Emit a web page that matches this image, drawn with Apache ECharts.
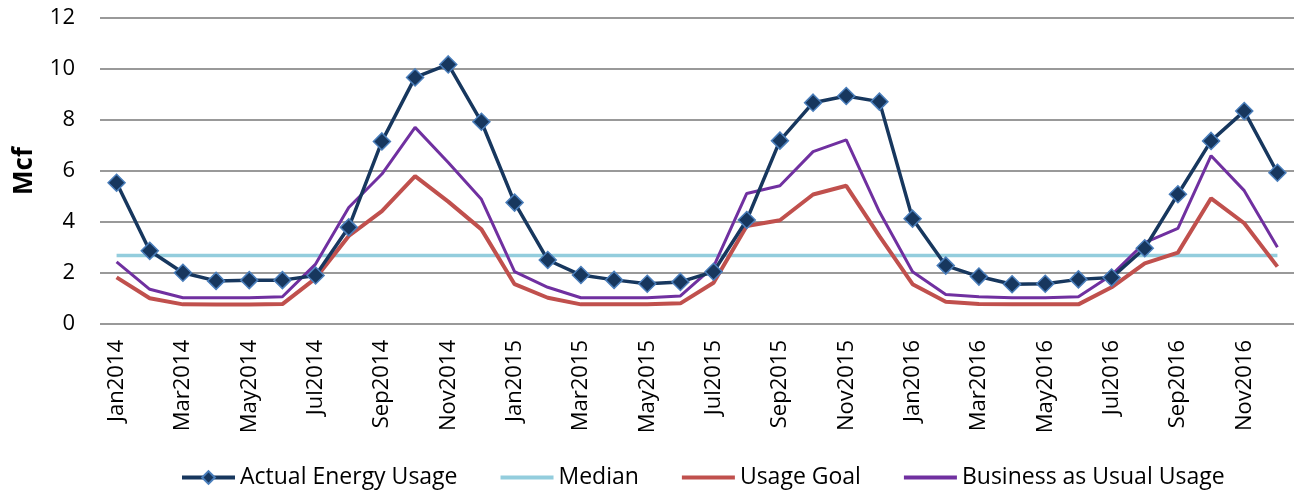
<!DOCTYPE html>
<html>
<head>
<meta charset="utf-8">
<script src="https://cdn.jsdelivr.net/npm/echarts@6/dist/echarts.min.js"></script>
<style>
  html, body { margin: 0; padding: 0; background: #fff; }
  #chart { width: 1294px; height: 491px; }
</style>
</head>
<body>
<div id="chart"></div>
<script>
// 月份（x轴）
const months = [
  'Jan2014', 'Feb2014', 'Mar2014', 'Apr2014', 'May2014', 'Jun2014',
  'Jul2014', 'Aug2014', 'Sep2014', 'Oct2014', 'Nov2014', 'Dec2014',
  'Jan2015', 'Feb2015', 'Mar2015', 'Apr2015', 'May2015', 'Jun2015',
  'Jul2015', 'Aug2015', 'Sep2015', 'Oct2015', 'Nov2015', 'Dec2015',
  'Jan2016', 'Feb2016', 'Mar2016', 'Apr2016', 'May2016', 'Jun2016',
  'Jul2016', 'Aug2016', 'Sep2016', 'Oct2016', 'Nov2016', 'Dec2016'
]

// 实际用量
const actualUsage = [
  5.54, 2.87, 2.01, 1.69, 1.72, 1.72, 1.90, 3.79, 7.16, 9.67, 10.18, 7.93,
  4.76, 2.51, 1.92, 1.73, 1.58, 1.65, 2.05, 4.08, 7.19, 8.68, 8.94, 8.72,
  4.13, 2.29, 1.86, 1.56, 1.58, 1.75, 1.82, 2.97, 5.09, 7.18, 8.35, 5.93
]

// 中位数
const medianUsage = [
  2.69, 2.69, 2.69, 2.69, 2.69, 2.69, 2.69, 2.69, 2.69, 2.69, 2.69, 2.69,
  2.69, 2.69, 2.69, 2.69, 2.69, 2.69, 2.69, 2.69, 2.69, 2.69, 2.69, 2.69,
  2.69, 2.69, 2.69, 2.69, 2.69, 2.69, 2.69, 2.69, 2.69, 2.69, 2.69, 2.69
]

// 目标用量
const goalUsage = [
  1.83, 1.01, 0.77, 0.76, 0.76, 0.78, 1.79, 3.45, 4.43, 5.80, 4.80, 3.71,
  1.56, 1.03, 0.77, 0.77, 0.77, 0.81, 1.62, 3.84, 4.07, 5.08, 5.42, 3.45,
  1.56, 0.87, 0.78, 0.77, 0.77, 0.77, 1.44, 2.38, 2.80, 4.93, 3.95, 2.25
]

// 照常营业用量
const bauUsage = [
  2.44, 1.36, 1.03, 1.03, 1.03, 1.07, 2.35, 4.57, 5.88, 7.71, 6.33, 4.89,
  2.05, 1.44, 1.03, 1.03, 1.03, 1.10, 2.25, 5.12, 5.42, 6.76, 7.22, 4.40,
  2.05, 1.16, 1.07, 1.03, 1.03, 1.07, 1.92, 3.19, 3.75, 6.60, 5.23, 3.01
]

const yTicks = { min: 0, max: 12, interval: 2 }

const font = '"Open Sans", "Noto Sans", sans-serif'

// 图例中的纯线条图标
const lineIcon = 'path://M0,0H60V4.5H0Z'

const mChart = echarts.init(document.getElementById('chart'))

const options = {
  animation: false,
  textStyle: { fontFamily: font },
  // 图例
  legend: {
    left: 175,
    top: 461,
    itemWidth: 53,
    itemHeight: 16,
    itemGap: 43,
    textStyle: { fontSize: 23, color: '#000', fontFamily: font },
    data: [
      { name: 'Actual Energy Usage', lineStyle: { width: 4 } },
      { name: 'Median', icon: lineIcon },
      { name: 'Usage Goal', icon: lineIcon },
      { name: 'Business as Usual Usage', icon: lineIcon }
    ]
  },
  grid: {
    left: 100,
    right: -5,
    top: 18,
    bottom: 167
  },
  xAxis: {
    type: 'category',
    data: months,
    axisLine: { show: false },
    axisTick: { show: false },
    axisLabel: {
      interval: 1,
      rotate: 90,
      margin: 16,
      fontSize: 22,
      color: '#000',
      fontFamily: font
    }
  },
  yAxis: {
    type: 'value',
    min: yTicks.min,
    max: yTicks.max,
    interval: yTicks.interval,
    name: 'Mcf',
    nameLocation: 'middle',
    nameGap: 62,
    nameTextStyle: { fontSize: 26, fontWeight: 'bold', color: '#000', fontFamily: font },
    axisLine: { show: false },
    axisTick: { show: false },
    axisLabel: { fontSize: 22, color: '#000', margin: 25, fontFamily: font },
    splitLine: { lineStyle: { color: '#999', width: 2 } }
  },
  series: [
    {
      name: 'Actual Energy Usage',
      type: 'line',
      z: 5,
      data: actualUsage,
      symbol: 'diamond',
      symbolSize: 17,
      color: '#17375E',
      lineStyle: { color: '#17375E', width: 3.5 },
      itemStyle: { color: '#17375E', borderColor: '#4A7EBB', borderWidth: 1.5 }
    },
    {
      name: 'Median',
      type: 'line',
      z: 3,
      data: medianUsage,
      symbol: 'none',
      color: '#93CDDD',
      lineStyle: { color: '#93CDDD', width: 3.5 }
    },
    {
      name: 'Usage Goal',
      type: 'line',
      z: 3,
      data: goalUsage,
      symbol: 'none',
      color: '#C0504D',
      lineStyle: { color: '#C0504D', width: 4 }
    },
    {
      name: 'Business as Usual Usage',
      type: 'line',
      z: 3,
      data: bauUsage,
      symbol: 'none',
      color: '#7030A0',
      lineStyle: { color: '#7030A0', width: 3 }
    }
  ]
}

mChart.setOption(options)
</script>
</body>
</html>
